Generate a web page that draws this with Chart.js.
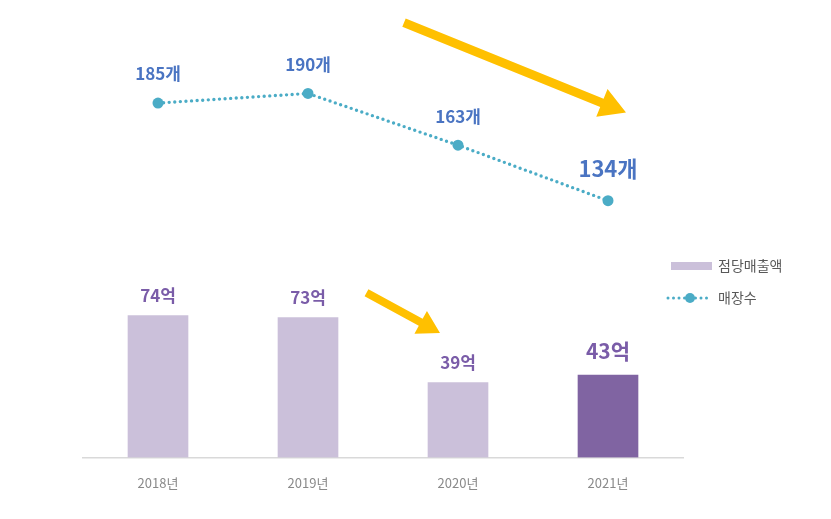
<!DOCTYPE html>
<html>
<head>
<meta charset="utf-8">
<script src="https://cdn.jsdelivr.net/npm/chart.js@4"></script>
<style>
  html, body { margin: 0; padding: 0; background: #fff; }
  #wrap { width: 831px; height: 519px; }
</style>
</head>
<body>
<div id="wrap"><canvas id="chart" width="831" height="519"></canvas></div>
<script>
const years = ['2018년', '2019년', '2020년', '2021년'];
const salesPerStore = [74, 73, 39, 43];      // 점당매출액 (억)
const storeCount = [185, 190, 163, 134];     // 매장수 (개)
const salesUnit = '억';
const storeUnit = '개';

// decorative arrows, given in [category index, value] of the shared scale
const arrows = [
    { from: [1.64, 227], to: [3.12, 180], shaft: 9, head: 26, half: 15 },
    { from: [1.39, 86], to: [1.88, 65], shaft: 8, head: 22, half: 13 }
];

const FONT = "'Noto Sans CJK KR', 'Noto Sans', sans-serif";
const BAR_LIGHT = '#CBC0DA';
const BAR_DARK = '#8064A2';
const LINE_COLOR = '#4BACC6';
const LAST = years.length - 1;

const labelPlugin = {
    id: 'valueLabels',
    afterDatasetsDraw(chart) {
        const ctx = chart.ctx;
        ctx.save();
        ctx.textAlign = 'center';
        ctx.textBaseline = 'middle';
        chart.data.datasets.forEach((ds, di) => {
            const meta = chart.getDatasetMeta(di);
            meta.data.forEach((el, i) => {
                const big = i === LAST;
                const isBar = ds.type === 'bar';
                const size = isBar ? (big ? 21 : 17) : (big ? 22 : 17);
                ctx.font = 'bold ' + size + 'px ' + FONT;
                ctx.fillStyle = isBar ? '#7A5CA8' : '#4A74C2';
                const off = isBar ? (big ? 24 : 20) : (big ? 32 : 29);
                ctx.fillText(ds.data[i] + (isBar ? salesUnit : storeUnit), el.x, el.y - off);
            });
        });
        ctx.restore();
    }
};

const arrowPlugin = {
    id: 'arrows',
    afterDraw(chart) {
        const ctx = chart.ctx;
        const xs = chart.scales.x, ys = chart.scales.y;
        ctx.save();
        ctx.fillStyle = '#FFC000';
        arrows.forEach(a => {
            const x1 = xs.getPixelForValue(a.from[0]), y1 = ys.getPixelForValue(a.from[1]);
            const x2 = xs.getPixelForValue(a.to[0]), y2 = ys.getPixelForValue(a.to[1]);
            const ang = Math.atan2(y2 - y1, x2 - x1);
            const len = Math.hypot(x2 - x1, y2 - y1);
            ctx.save();
            ctx.translate(x1, y1);
            ctx.rotate(ang);
            ctx.beginPath();
            ctx.moveTo(0, -a.shaft / 2);
            ctx.lineTo(len - a.head, -a.shaft / 2);
            ctx.lineTo(len - a.head, -a.half);
            ctx.lineTo(len, 0);
            ctx.lineTo(len - a.head, a.half);
            ctx.lineTo(len - a.head, a.shaft / 2);
            ctx.lineTo(0, a.shaft / 2);
            ctx.closePath();
            ctx.fill();
            ctx.restore();
        });
        ctx.restore();
    }
};

const legendPlugin = {
    id: 'customLegend',
    afterDraw(chart) {
        const ctx = chart.ctx;
        const ds = chart.data.datasets;
        const x0 = 668, textX = 718;
        ctx.save();
        ctx.font = '14px ' + FONT;
        ctx.textBaseline = 'middle';
        // bar entry
        let y = 266;
        ctx.fillStyle = BAR_LIGHT;
        ctx.fillRect(x0 + 3, y - 4, 41, 8);
        ctx.fillStyle = '#595959';
        ctx.fillText(ds[0].label, textX, y);
        // line entry
        y = 298;
        ctx.strokeStyle = LINE_COLOR;
        ctx.lineWidth = 3;
        ctx.lineCap = 'round';
        ctx.setLineDash([0, 5.5]);
        ctx.beginPath();
        ctx.moveTo(x0, y);
        ctx.lineTo(x0 + 44, y);
        ctx.stroke();
        ctx.setLineDash([]);
        ctx.fillStyle = LINE_COLOR;
        ctx.beginPath();
        ctx.arc(x0 + 22, y, 5, 0, Math.PI * 2);
        ctx.fill();
        ctx.fillStyle = '#595959';
        ctx.fillText(ds[1].label, textX, y);
        ctx.restore();
    }
};

new Chart(document.getElementById('chart').getContext('2d'), {
    data: {
        labels: years,
        datasets: [
            {
                type: 'bar',
                label: '점당매출액',
                data: salesPerStore,
                backgroundColor: (c) => c.dataIndex === LAST ? BAR_DARK : BAR_LIGHT,
                barThickness: 60,
                order: 2
            },
            {
                type: 'line',
                label: '매장수',
                data: storeCount,
                borderColor: LINE_COLOR,
                backgroundColor: LINE_COLOR,
                borderWidth: 3.4,
                borderDash: [0, 5.6],
                borderCapStyle: 'round',
                tension: 0,
                pointRadius: 5.5,
                pointHoverRadius: 5.5,
                pointBorderWidth: 0,
                order: 1
            }
        ]
    },
    options: {
        responsive: false,
        maintainAspectRatio: false,
        animation: false,
        layout: { padding: { left: 83, right: 148, top: 36, bottom: 10 } },
        scales: {
            x: {
                grid: { display: false, drawTicks: false },
                border: { display: true, color: '#D9D9D9', width: 1.5 },
                ticks: { color: '#8A8A8A', padding: 18, font: { family: FONT, size: 13 } }
            },
            y: { display: false, min: 0, max: 220 }
        },
        plugins: { legend: { display: false }, tooltip: { enabled: false } }
    },
    plugins: [labelPlugin, arrowPlugin, legendPlugin]
});
</script>
</body>
</html>
